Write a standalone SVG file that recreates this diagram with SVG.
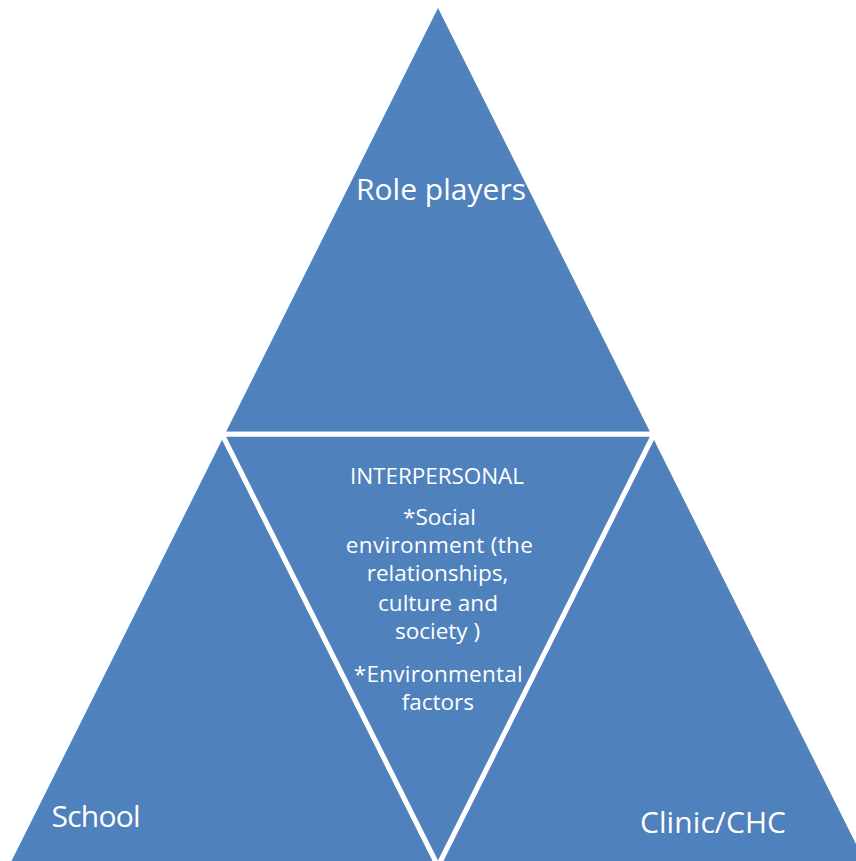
<svg xmlns="http://www.w3.org/2000/svg" width="856" height="861" viewBox="0 0 856 861">
  <style>
    .seg { fill: #4F81BD; stroke: #FFFFFF; stroke-width: 5; stroke-linejoin: miter; stroke-miterlimit: 10; }
    .big { font-family: "Open Sans", "Liberation Sans", sans-serif; font-size: 30px; fill: #FFFFFF; }
    .small { font-family: "Open Sans", "Liberation Sans", sans-serif; font-size: 22.5px; fill: #FFFFFF; text-anchor: middle; }
  </style>
  <rect width="856" height="861" fill="#FFFFFF"/>
  <g id="connectors"></g>
  <g id="node-role-players">
    <polygon class="seg" points="438,2.4 222.1,434.2 653.9,434.2"/>
    <text class="big" x="441" y="200" text-anchor="middle" textLength="170">Role players</text>
  </g>
  <g id="node-school">
    <polygon class="seg" points="222.1,434.2 6.2,866 438,866"/>
    <text class="big" x="51.5" y="826.5" textLength="89">School</text>
  </g>
  <g id="node-clinic">
    <polygon class="seg" points="653.9,434.2 438,866 869.8,866"/>
    <text class="big" x="640" y="833" textLength="146">Clinic/CHC</text>
  </g>
  <g id="node-interpersonal">
    <polygon class="seg" points="222.1,434.2 653.9,434.2 438,866"/>
    <text class="small" x="437" y="484" textLength="174">INTERPERSONAL</text>
    <text class="small" x="439.5" y="525">*Social</text>
    <text class="small" x="439.3" y="553" textLength="187">environment (the</text>
    <text class="small" x="437.5" y="581">relationships,</text>
    <text class="small" x="438" y="611">culture and</text>
    <text class="small" x="437.5" y="639">society )</text>
    <text class="small" x="438.3" y="682" textLength="169">*Environmental</text>
    <text class="small" x="437.8" y="710">factors</text>
  </g>
</svg>
